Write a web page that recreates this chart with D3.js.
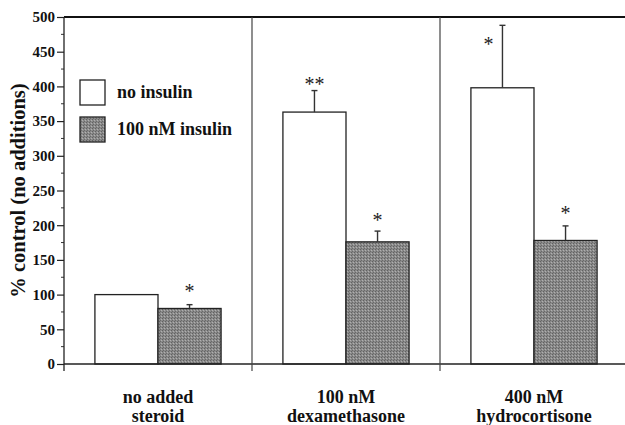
<!DOCTYPE html>
<html>
<head>
<meta charset="utf-8">
<script src="https://cdn.jsdelivr.net/npm/d3@7"></script>
<style>
  html, body { margin: 0; padding: 0; background: #fff; }
  svg text { font-family: "Liberation Serif", "DejaVu Serif", serif; font-weight: bold; }
</style>
</head>
<body>
<div id="chart"></div>
<script>
// ---------- données ----------
const groups = ["no added|steroid", "100 nM|dexamethasone", "400 nM|hydrocortisone"];
const series = ["no insulin", "100 nM insulin"];
const noInsulin = [100, 363, 398];
const noInsulinErr = [0, 31, 90];
const withInsulin = [80, 176, 178];
const withInsulinErr = [5.5, 15.5, 21];
const yTicks = [0, 50, 100, 150, 200, 250, 300, 350, 400, 450, 500];
// annotations: groupe, série, texte, position (unités de l'axe y), décalage x
const stars = [
  { g: 0, s: 1, text: "*",  y: 112, dx: 0 },
  { g: 1, s: 0, text: "**", y: 410, dx: 0 },
  { g: 1, s: 1, text: "*",  y: 215, dx: 0 },
  { g: 2, s: 0, text: "*",  y: 469, dx: -14 },
  { g: 2, s: 1, text: "*",  y: 225, dx: 0 }
];

const W = 625, H = 425;
const m = { top: 17, left: 64, bottom: 61 };
const innerH = H - m.top - m.bottom;

const svg = d3.select("#chart").append("svg")
  .attr("width", W).attr("height", H);

const defs = svg.append("defs");
const pat = defs.append("pattern")
  .attr("id", "stipple").attr("patternUnits", "userSpaceOnUse")
  .attr("width", 3).attr("height", 3);
pat.append("rect").attr("width", 3).attr("height", 3).attr("fill", "#8a8a8a");
pat.append("rect").attr("x", 0).attr("y", 0).attr("width", 1).attr("height", 1).attr("fill", "#626262");
pat.append("rect").attr("x", 2).attr("y", 1).attr("width", 1).attr("height", 1).attr("fill", "#b0b0b0");
pat.append("rect").attr("x", 1).attr("y", 2).attr("width", 1).attr("height", 1).attr("fill", "#6a6a6a");

const y = d3.scaleLinear().domain([0, 500]).range([m.top + innerH, m.top]);
const x0 = d3.scaleBand().domain(groups).range([m.left, m.left + 3 * 188]);
const x1 = d3.scaleBand().domain(series).range([0, x0.bandwidth()]).paddingOuter(0.49);

const rows = groups.map((g, i) => [
  { g, i, s: series[0], v: noInsulin[i], e: noInsulinErr[i] },
  { g, i, s: series[1], v: withInsulin[i], e: withInsulinErr[i] }
]).flat();

const fillFor = s => s === series[0] ? "#fff" : "url(#stipple)";

// Barres
svg.append("g").selectAll("rect")
  .data(rows)
  .enter().append("rect")
    .attr("x", d => x0(d.g) + x1(d.s))
    .attr("y", d => y(d.v))
    .attr("width", x1.bandwidth())
    .attr("height", d => y(0) - y(d.v))
    .attr("fill", d => fillFor(d.s))
    .attr("stroke", "#222")
    .attr("stroke-width", 1.3);

// Barres d'erreur
const eb = svg.append("g").attr("stroke", "#333").attr("stroke-width", 1.4);
rows.filter(d => d.e > 0).forEach(d => {
  const cx = x0(d.g) + x1(d.s) + x1.bandwidth() / 2;
  eb.append("line").attr("x1", cx).attr("x2", cx).attr("y1", y(d.v)).attr("y2", y(d.v + d.e));
  eb.append("line").attr("x1", cx - 3).attr("x2", cx + 3).attr("y1", y(d.v + d.e)).attr("y2", y(d.v + d.e));
});

// Axe Y
const yAxis = d3.axisLeft(y).tickValues(yTicks).tickSize(7).tickPadding(2).tickSizeOuter(0);
const ya = svg.append("g").attr("transform", `translate(${m.left},0)`).call(yAxis);
ya.attr("font-family", null);
ya.select(".domain").remove();
ya.selectAll("line").attr("stroke", "#222").attr("stroke-width", 1.2);
ya.selectAll("text").attr("font-size", 15).attr("fill", "#111");
// petites graduations
svg.append("g").selectAll("line")
  .data(d3.range(25, 500, 50))
  .enter().append("line")
    .attr("x1", m.left - 3).attr("x2", m.left)
    .attr("y1", d => y(d)).attr("y2", d => y(d))
    .attr("stroke", "#333").attr("stroke-width", 1);

// Cadre
svg.append("line").attr("x1", m.left).attr("x2", W).attr("y1", y(500)).attr("y2", y(500))
  .attr("stroke", "#111").attr("stroke-width", 2);
svg.append("line").attr("x1", m.left).attr("x2", W).attr("y1", y(0)).attr("y2", y(0))
  .attr("stroke", "#222").attr("stroke-width", 1.5);
svg.append("line").attr("x1", m.left).attr("x2", m.left).attr("y1", y(500)).attr("y2", y(0) + 7)
  .attr("stroke", "#222").attr("stroke-width", 1.3);
svg.append("g").selectAll("line")
  .data(groups.slice(1))
  .enter().append("line")
    .attr("x1", d => x0(d)).attr("x2", d => x0(d))
    .attr("y1", y(500)).attr("y2", y(0) + 7)
    .attr("stroke", "#444").attr("stroke-width", 1.2);

// Étoiles
svg.append("g").selectAll("text")
  .data(stars)
  .enter().append("text")
    .attr("x", d => x0(groups[d.g]) + x1(series[d.s]) + x1.bandwidth() / 2 + d.dx)
    .attr("y", d => y(d.y))
    .attr("dy", "0.6em")
    .attr("text-anchor", "middle")
    .attr("font-size", 20)
    .style("font-weight", "normal")
    .attr("fill", "#222")
    .text(d => d.text);

// Libellés X
const xl = svg.append("g").selectAll("text")
  .data(groups)
  .enter().append("text")
    .attr("x", d => x0(d) + x0.bandwidth() / 2)
    .attr("y", y(0) + 39)
    .attr("text-anchor", "middle")
    .attr("font-size", 18)
    .attr("fill", "#111");
xl.append("tspan").text(d => d.split("|")[0]);
xl.append("tspan").attr("x", d => x0(d) + x0.bandwidth() / 2).attr("dy", 19).text(d => d.split("|")[1]);

// Titre Y
svg.append("text")
  .attr("transform", `translate(25,${(y(500) + y(0)) / 2}) rotate(-90)`)
  .attr("text-anchor", "middle")
  .attr("font-size", 20.5)
  .attr("fill", "#111")
  .text("% control (no additions)");

// Légende
const lg = svg.append("g").attr("transform", "translate(80,80)");
series.forEach((s, i) => {
  lg.append("rect").attr("x", 0).attr("y", i * 37).attr("width", 25).attr("height", 25)
    .attr("fill", fillFor(s)).attr("stroke", "#222").attr("stroke-width", 1.3);
  lg.append("text").attr("x", 37).attr("y", i * 37 + 18)
    .attr("font-size", 18).attr("fill", "#111").text(s);
});
</script>
</body>
</html>
